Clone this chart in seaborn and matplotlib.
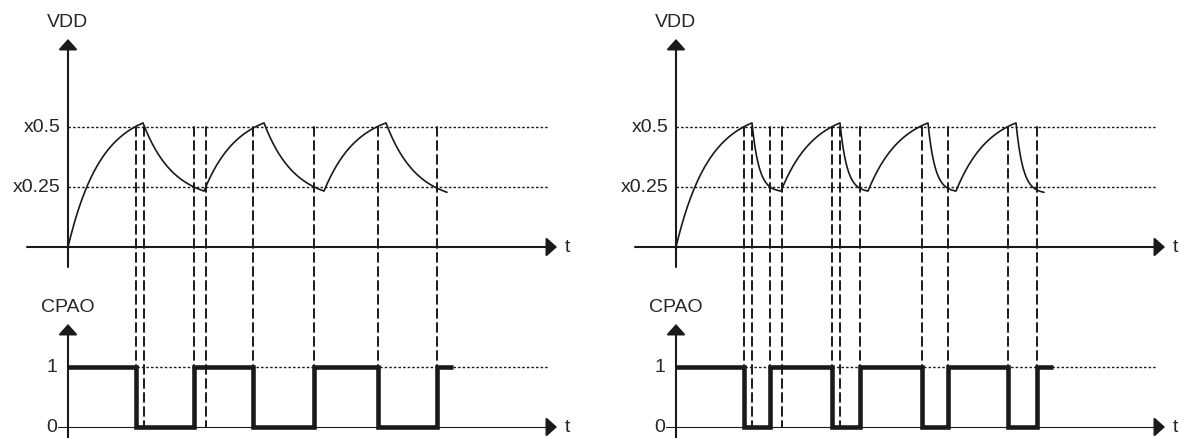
import numpy as np
import matplotlib
matplotlib.use("Agg")
import matplotlib.pyplot as plt
from matplotlib.patches import ConnectionPatch
import seaborn as sns

sns.set_theme(style="white")
plt.rcParams["font.family"] = ["Liberation Sans", "DejaVu Sans"]

# Comparator thresholds on VDD and their labels
thresholds = [0.5, 0.25]
threshold_labels = ["x0.5", "x0.25"]

# Left case: slow discharge. Knots are start / peaks / troughs of VDD.
left_knot_t = [0.0, 7.5, 13.6, 19.6, 25.6, 31.8, 37.9]
left_knot_v = [0.0, 0.517, 0.233, 0.517, 0.233, 0.517, 0.228]
left_edges = [6.8, 12.6, 18.5, 24.6, 31.0, 36.9]   # CPAO transitions
left_marks = [7.6, 13.8]                           # extra markers at peak / trough
left_cpao_end = 38.5

# Right case: fast discharge
right_knot_t = [0.0, 7.6, 10.5, 16.4, 19.2, 25.2, 28.0, 34.0, 36.8]
right_knot_v = [0.0, 0.517, 0.233, 0.517, 0.233, 0.517, 0.233, 0.517, 0.228]
right_edges = [6.8, 9.4, 15.6, 18.4, 24.6, 27.2, 33.2, 36.1]
right_marks = [7.6, 10.6, 16.4]
right_cpao_end = 37.7

# RC time constants for charging and discharging segments
tau_rise = 3.3
left_tau_fall = 3.0
right_tau_fall = 0.7

T_END = 48.0       # end of dotted reference lines
T_ARROW = 48.9     # tip of the time axis arrow


def rc_trace(knot_t, knot_v, t_rise, t_fall, n=80):
    ts, vs = [], []
    for i, (t0, t1, v0, v1) in enumerate(zip(knot_t[:-1], knot_t[1:], knot_v[:-1], knot_v[1:])):
        tau = t_rise if v1 > v0 else t_fall
        s = np.linspace(0, t1 - t0, n)
        shape = (1 - np.exp(-s / tau)) / (1 - np.exp(-(t1 - t0) / tau))
        if i > 0:
            s, shape = s[1:], shape[1:]
        ts.append(t0 + s)
        vs.append(v0 + (v1 - v0) * shape)
    return np.concatenate(ts), np.concatenate(vs)


def square_wave(edges, t_end):
    xs = [0.0] + list(edges) + [t_end]
    ys = [1] + [0 if i % 2 == 0 else 1 for i in range(len(edges))]
    ys = ys + [ys[-1]]
    return np.array(xs), np.array(ys)


ARROW = dict(arrowstyle="-|>,head_length=0.4,head_width=0.36", mutation_scale=16,
             lw=1.5, color="k", shrinkA=0, shrinkB=0)
FS = 14
dotted = dict(color="k", lw=1.0, dashes=(1.8, 1.5))

W, H = 1181, 439
fig = plt.figure(figsize=(W / 100, H / 100), dpi=100)

panels = [
    (0, 590, -6.8, left_knot_t, left_knot_v, left_tau_fall, left_edges, left_marks, left_cpao_end),
    (590, 591, -8.6, right_knot_t, right_knot_v, right_tau_fall, right_edges, right_marks, right_cpao_end),
]

for x0, w, tmin, kt, kv, tfall, edges, marks, cend in panels:
    ax_top = fig.add_axes([x0 / W, (H - 270) / H, w / W, 270 / H])
    ax_bot = fig.add_axes([x0 / W, 0, w / W, 169 / H])
    tmax = tmin + w / 10
    ax_top.set_xlim(tmin, tmax)
    ax_top.set_ylim(-22 / 240, 248 / 240)
    ax_bot.set_xlim(tmin, tmax)
    ax_bot.set_ylim(-11 / 60, 158 / 60)
    for ax in (ax_top, ax_bot):
        ax.set_axis_off()
        ax.patch.set_alpha(0)

    # --- VDD part ---
    for th, lab in zip(thresholds, threshold_labels):
        ax_top.plot([0, T_END], [th, th], **dotted)
        ax_top.text(-0.75, th, lab, ha="right", va="center", fontsize=FS)
    ax_top.annotate("", xy=(0, 208 / 240), xytext=(0, -20 / 240), arrowprops=ARROW,
                    annotation_clip=False)
    ax_top.annotate("", xy=(T_ARROW, 0), xytext=(-4.1, 0), arrowprops=ARROW,
                    annotation_clip=False)
    ax_top.text(0, 225 / 240, "VDD", ha="center", va="center", fontsize=FS)
    ax_top.text(49.9, 0, "t", ha="center", va="center", fontsize=FS)

    t, v = rc_trace(kt, kv, tau_rise, tfall)
    sns.lineplot(x=t, y=v, ax=ax_top, color="k", lw=1.2, estimator=None, sort=False)

    # --- CPAO part ---
    ax_bot.plot([0, T_END], [1, 1], **dotted)
    ax_bot.plot([-1.0, T_ARROW - 0.5], [0, 0], color="k", lw=0.8)
    ax_bot.annotate("", xy=(T_ARROW, 0), xytext=(T_ARROW - 1.0, 0), arrowprops=ARROW,
                    annotation_clip=False)
    ax_bot.annotate("", xy=(0, 103 / 60), xytext=(0, -11 / 60), arrowprops=ARROW,
                    annotation_clip=False)
    ax_bot.text(0, 121 / 60, "CPAO", ha="center", va="center", fontsize=FS)
    ax_bot.text(-1.1, 1, "1", ha="right", va="center", fontsize=FS)
    ax_bot.text(-1.1, 0, "0", ha="right", va="center", fontsize=FS)
    ax_bot.text(49.9, 0, "t", ha="center", va="center", fontsize=FS)

    sx, sy = square_wave(edges, cend)
    sns.lineplot(x=sx, y=sy, ax=ax_bot, color="k", lw=3.3, estimator=None, sort=False,
                 drawstyle="steps-post", solid_joinstyle="miter", solid_capstyle="butt")

    # dashed timing markers from the upper threshold down to CPAO = 0
    for tm in sorted(list(edges) + list(marks)):
        con = ConnectionPatch(xyA=(tm, 0.5), coordsA="data", axesA=ax_top,
                              xyB=(tm, 0.0), coordsB="data", axesB=ax_bot,
                              color="k", lw=1.4, linestyle=(0, (4.6, 2.6)))
        fig.add_artist(con)

fig.savefig("out.png", dpi=100)
